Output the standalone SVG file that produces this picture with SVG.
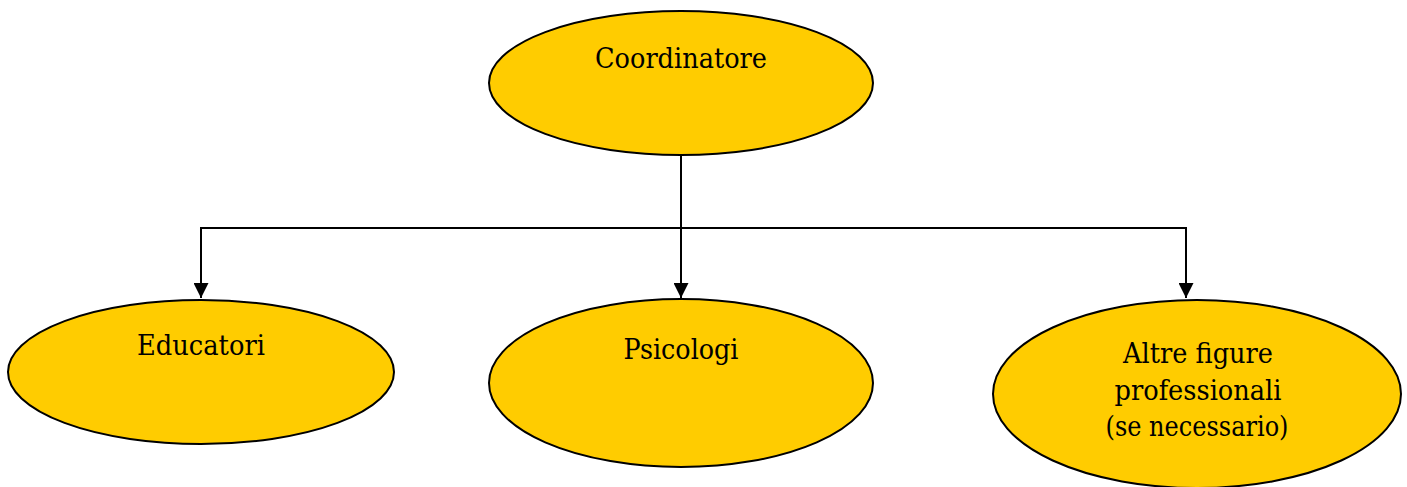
<svg xmlns="http://www.w3.org/2000/svg" width="1407" height="487" viewBox="0 0 1407 487">
<style>
.node ellipse{fill:#FFCC00;stroke:#000;stroke-width:2}
.node text{font-family:"DejaVu Serif","Liberation Serif",serif;font-size:27px;fill:#000;text-anchor:middle}
.conn{fill:none;stroke:#000;stroke-width:2}
</style>
<defs>
<marker id="arr" markerWidth="15" markerHeight="15" refX="15" refY="7.5" orient="auto" markerUnits="userSpaceOnUse">
<path d="M0,0 L15,7.5 L0,15 Z" fill="#000"/>
</marker>
</defs>
<rect width="1407" height="487" fill="#fff"/>
<g id="connectors">
<path class="conn" d="M681,155 V298" marker-end="url(#arr)"/>
<path class="conn" d="M201,228 H1186"/>
<path class="conn" d="M201,227 V298" marker-end="url(#arr)"/>
<path class="conn" d="M1186,227 V298" marker-end="url(#arr)"/>
</g>
<g id="coordinatore" class="node">
<ellipse cx="681" cy="83" rx="192" ry="72"/>
<text x="681" y="68" textLength="172" lengthAdjust="spacingAndGlyphs">Coordinatore</text>
</g>
<g id="educatori" class="node">
<ellipse cx="201" cy="372" rx="193" ry="72"/>
<text x="201" y="355" textLength="128" lengthAdjust="spacingAndGlyphs">Educatori</text>
</g>
<g id="psicologi" class="node">
<ellipse cx="681" cy="383" rx="192" ry="84"/>
<text x="681" y="359" textLength="115" lengthAdjust="spacingAndGlyphs">Psicologi</text>
</g>
<g id="altre" class="node">
<ellipse cx="1197" cy="394" rx="204" ry="94"/>
<text x="1198" y="363" textLength="150" lengthAdjust="spacingAndGlyphs">Altre figure</text>
<text x="1198" y="400" textLength="167" lengthAdjust="spacingAndGlyphs">professionali</text>
<text x="1197" y="436" textLength="183" lengthAdjust="spacingAndGlyphs">(se necessario)</text>
</g>
</svg>
